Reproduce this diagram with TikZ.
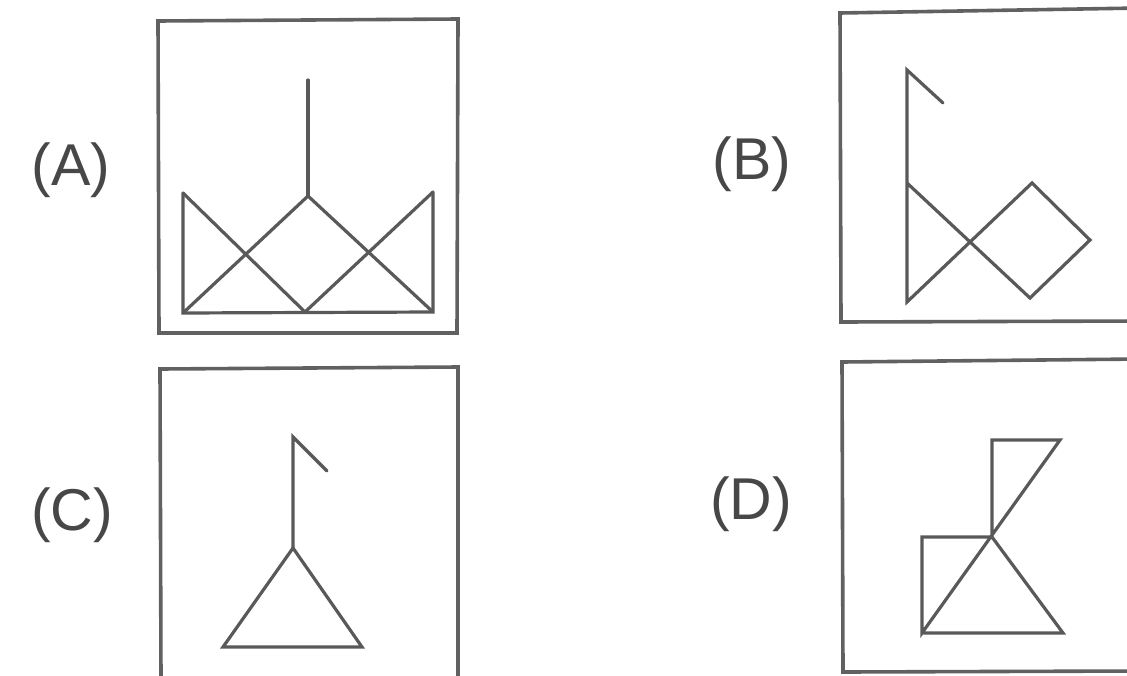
\documentclass[tikz,border=0pt]{standalone}
\usepackage{fontspec}
\setmainfont{Liberation Sans}
\begin{document}
\begin{tikzpicture}[x=1pt,y=-1pt,
  frame/.style={draw=black!62,line width=3.6pt},
  fig/.style={draw=black!65,line width=3.2pt,line join=miter,line cap=round},
  lab/.style={font=\fontsize{59}{63}\selectfont,text=black!72,inner sep=0pt,anchor=center}]
\useasboundingbox (0,0) rectangle (1127,675);
\clip (0,0) rectangle (1127,675);
% frames
\draw[frame] (158,21) -- (458,19) -- (457,333) -- (159,333) -- cycle;
\draw[frame] (840,13) -- (1140,8) -- (1140,321) -- (841,322) -- cycle;
\draw[frame] (160,369) -- (458,367) -- (458,680) -- (161,680) -- cycle;
\draw[frame] (842,362) -- (1140,359) -- (1140,671) -- (843,672) -- cycle;
% labels
\node[lab] (la) at (71,170) {(A)};
\node[lab] (lb) at (752,164) {(B)};
\node[lab] (lc) at (72,515) {(C)};
\node[lab] (ld) at (751,504) {(D)};
% (A)
\coordinate (a1) at (308,80);
\coordinate (a2) at (308,196);
\coordinate (a3) at (183,193);
\coordinate (a4) at (183,313);
\coordinate (a5) at (305,312);
\coordinate (a6) at (433,312);
\coordinate (a7) at (433,192);
\draw[fig] (a1) -- (a2);
\draw[fig] (a3) -- (a4) -- (a6) -- (a7);
\draw[fig] (a3) -- (a5) -- (a7);
\draw[fig] (a4) -- (a2) -- (a6);
% (B)
\coordinate (b1) at (943,103);
\coordinate (b2) at (907,70);
\coordinate (b3) at (907,183);
\coordinate (b4) at (907,302);
\coordinate (b5) at (1032,183);
\coordinate (b6) at (1090,240);
\coordinate (b7) at (1030,298);
\draw[fig] (b1) -- (b2) -- (b4) -- (b5) -- (b6) -- (b7) -- (b3);
% (C)
\coordinate (c1) at (327,471);
\coordinate (c2) at (293,437);
\coordinate (c3) at (293,548);
\coordinate (c4) at (223,647);
\coordinate (c5) at (362,647);
\draw[fig] (c1) -- (c2) -- (c3);
\draw[fig] (c3) -- (c4) -- (c5) -- cycle;
% (D)
\coordinate (d1) at (992,440);
\coordinate (d2) at (1060,440);
\coordinate (d3) at (992,537);
\coordinate (d4) at (922,537);
\coordinate (d5) at (922,633);
\coordinate (d6) at (1063,633);
\draw[fig] (d3) -- (d1) -- (d2) -- (d5) -- (d4) -- (d3) -- (d6) -- (d5);
\end{tikzpicture}
\end{document}
